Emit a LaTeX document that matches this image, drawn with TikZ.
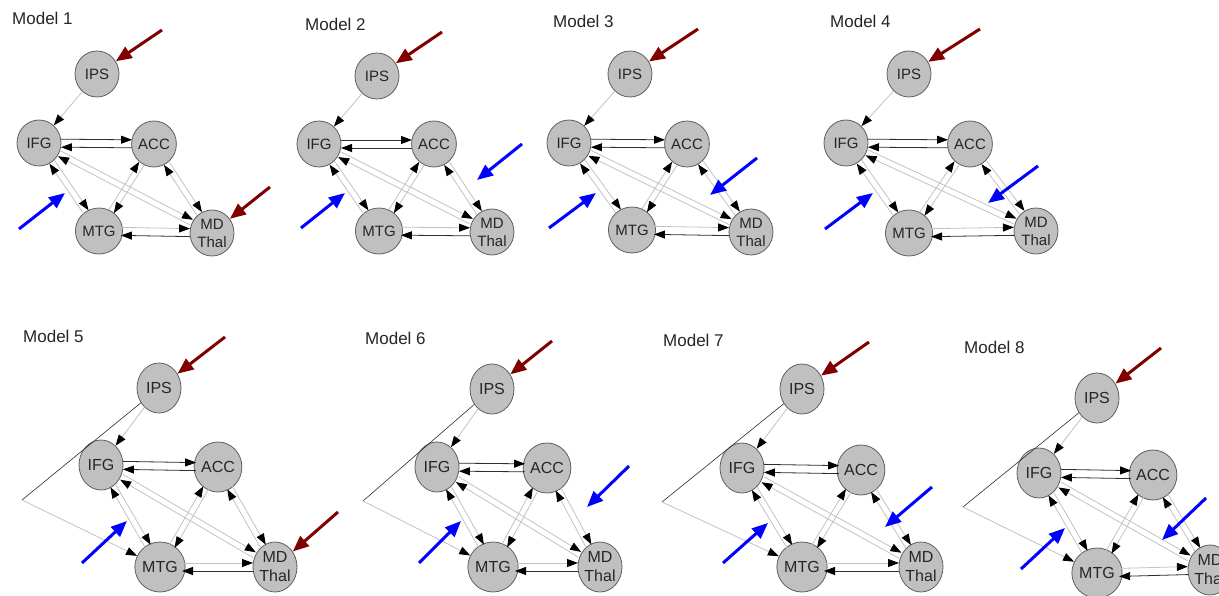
\documentclass[tikz,border=0pt]{standalone}
\usepackage{fontspec}
\setmainfont{Liberation Sans}
\usetikzlibrary{arrows.meta,calc,shapes.geometric}
\definecolor{nodefill}{RGB}{192,192,192}
\definecolor{nodeline}{RGB}{95,95,95}
\definecolor{lightedge}{RGB}{195,195,195}
\definecolor{darkedge}{RGB}{45,45,45}
\definecolor{inred}{RGB}{128,0,0}
\definecolor{inblue}{RGB}{0,0,255}
\tikzset{
  region/.style={ellipse, draw=nodeline, fill=nodefill, line width=0.8pt, inner sep=0pt,
    text=black!85, font=\fontsize{15}{18}\selectfont, align=center},
  topreg/.style={region, minimum width=44pt, minimum height=46pt},
  botreg/.style={region, minimum width=44pt, minimum height=50pt, font=\fontsize{16}{19}\selectfont},
  conn/.style={line width=0.8pt, -{Triangle[length=11pt,width=8pt,color=black]}},
  lightconn/.style={conn, draw=lightedge},
  darkconn/.style={conn, draw=darkedge},
  bendline/.style={line width=0.6pt, draw=darkedge},
  input/.style={line width=3pt, -{Triangle[length=16pt,width=13pt]}},
  redin/.style={input, draw=inred},
  bluein/.style={input, draw=inblue},
  title/.style={anchor=west, inner sep=0pt, font=\fontsize{17}{20}\selectfont, text=black!85},
}
% directed edge offset to one side: style, from, to, offset, shorten
\newcommand\dedge[5]{%
  \draw[#1, shorten <=#5, shorten >=#5] ($(#2.center)!#4!90:(#3.center)$) -- ($(#3.center)!#4!-90:(#2.center)$);}
% model: id, node style, IPS, IFG, ACC, MTG, MD
\newcommand\model[7]{%
  \node[#2] (IPS#1) at (#3) {IPS};
  \node[#2] (IFG#1) at (#4) {IFG};
  \node[#2] (ACC#1) at (#5) {ACC};
  \node[#2] (MTG#1) at (#6) {MTG};
  \node[#2] (MD#1) at (#7) {MD\\Thal};
  \draw[lightconn] (IPS#1) -- (IFG#1);
  \dedge{darkconn}{IFG#1}{ACC#1}{4pt}{\hs}
  \dedge{darkconn}{ACC#1}{IFG#1}{4pt}{\hs}
  \dedge{lightconn}{MTG#1}{MD#1}{4pt}{\hs}
  \dedge{darkconn}{MD#1}{MTG#1}{4pt}{\hs}
  \dedge{lightconn}{IFG#1}{MTG#1}{3pt}{\ds}
  \dedge{lightconn}{MTG#1}{IFG#1}{3pt}{\ds}
  \dedge{lightconn}{IFG#1}{MD#1}{3pt}{\ds}
  \dedge{lightconn}{MD#1}{IFG#1}{3pt}{\ds}
  \dedge{lightconn}{ACC#1}{MTG#1}{3pt}{\ds}
  \dedge{lightconn}{MTG#1}{ACC#1}{3pt}{\ds}
  \dedge{lightconn}{ACC#1}{MD#1}{3pt}{\ds}
  \dedge{lightconn}{MD#1}{ACC#1}{3pt}{\ds}
}
\newcommand\bend[2]{%
  \coordinate (C#1) at (#2);
  \draw[bendline] (IPS#1) -- (C#1);
  \draw[lightconn] (C#1) -- (MTG#1);}
\begin{document}
\begin{tikzpicture}[x=1pt,y=-1pt]
\useasboundingbox[fill=white] (0,0) rectangle (1219,596);
% ---------- top row ----------
\def\hs{22pt}\def\ds{23pt}
\node[title] (T1) at (12,18) {Model 1};
\node[title] (T2) at (305,24) {Model 2};
\node[title] (T3) at (553,21) {Model 3};
\node[title] (T4) at (830,21) {Model 4};
\model{1}{topreg}{97,74}{39,143}{154,144}{99,231}{212,233}
\model{2}{topreg}{377,76}{319,144}{434,144}{379,231}{492,232}
\model{3}{topreg}{630,74}{569,143}{687,144}{632,230}{751,232}
\model{4}{topreg}{909,74}{846,143}{970,144}{909,233}{1036,231}
% inputs model 1
\coordinate (R1a) at (162,30); \draw[redin] (R1a) -- (IPS1);
\coordinate (R1b) at (270,187); \draw[redin] (R1b) -- (MD1);
\coordinate (B1s) at (19,229); \coordinate (B1e) at (65,193); \draw[bluein] (B1s) -- (B1e);
% inputs model 2
\coordinate (R2a) at (442,32); \draw[redin] (R2a) -- (IPS2);
\coordinate (B2s) at (301,228); \coordinate (B2e) at (345,193); \draw[bluein] (B2s) -- (B2e);
\coordinate (B2t) at (522,144); \coordinate (B2u) at (477,180); \draw[bluein] (B2t) -- (B2u);
% inputs model 3
\coordinate (R3a) at (698,29); \draw[redin] (R3a) -- (IPS3);
\coordinate (B3s) at (549,228); \coordinate (B3e) at (596,193); \draw[bluein] (B3s) -- (B3e);
\coordinate (B3t) at (757,158); \coordinate (B3u) at (710,195); \draw[bluein] (B3t) -- (B3u);
% inputs model 4
\coordinate (R4a) at (980,29); \draw[redin] (R4a) -- (IPS4);
\coordinate (B4s) at (825,229); \coordinate (B4e) at (873,193); \draw[bluein] (B4s) -- (B4e);
\coordinate (B4t) at (1038,166); \coordinate (B4u) at (988,203); \draw[bluein] (B4t) -- (B4u);
% ---------- bottom row ----------
\def\hs{22pt}\def\ds{24pt}
\node[title] (T5) at (23,336) {Model 5};
\node[title] (T6) at (365,338) {Model 6};
\node[title] (T7) at (663,340) {Model 7};
\node[title] (T8) at (964,347) {Model 8};
\model{5}{botreg}{159,388}{101,465}{218,467}{160,567}{275,567}
\model{6}{botreg}{492,389}{437,467}{547,468}{493,567}{600,567}
\model{7}{botreg}{802,389}{742,468}{861,470}{802,567}{921,567}
\model{8}{botreg}{1097,398}{1039,473}{1153,475}{1097,573}{1210,570}
\bend{5}{22,500}
\bend{6}{363,501}
\bend{7}{662,502}
\bend{8}{963,507}
% inputs model 5
\coordinate (R5a) at (225,337); \draw[redin] (R5a) -- (IPS5);
\coordinate (R5b) at (338,512); \draw[redin] (R5b) -- (MD5);
\coordinate (B5s) at (82,563); \coordinate (B5e) at (127,521); \draw[bluein] (B5s) -- (B5e);
% inputs model 6
\coordinate (R6a) at (552,341); \draw[redin] (R6a) -- (IPS6);
\coordinate (B6s) at (419,563); \coordinate (B6e) at (461,521); \draw[bluein] (B6s) -- (B6e);
\coordinate (B6t) at (629,466); \coordinate (B6u) at (587,507); \draw[bluein] (B6t) -- (B6u);
% inputs model 7
\coordinate (R7a) at (869,342); \draw[redin] (R7a) -- (IPS7);
\coordinate (B7s) at (723,563); \coordinate (B7e) at (768,523); \draw[bluein] (B7s) -- (B7e);
\coordinate (B7t) at (932,487); \coordinate (B7u) at (885,527); \draw[bluein] (B7t) -- (B7u);
% inputs model 8
\coordinate (R8a) at (1161,348); \draw[redin] (R8a) -- (IPS8);
\coordinate (B8s) at (1021,569); \coordinate (B8e) at (1065,528); \draw[bluein] (B8s) -- (B8e);
\coordinate (B8t) at (1206,498); \coordinate (B8u) at (1162,540); \draw[bluein] (B8t) -- (B8u);
\end{tikzpicture}
\end{document}
